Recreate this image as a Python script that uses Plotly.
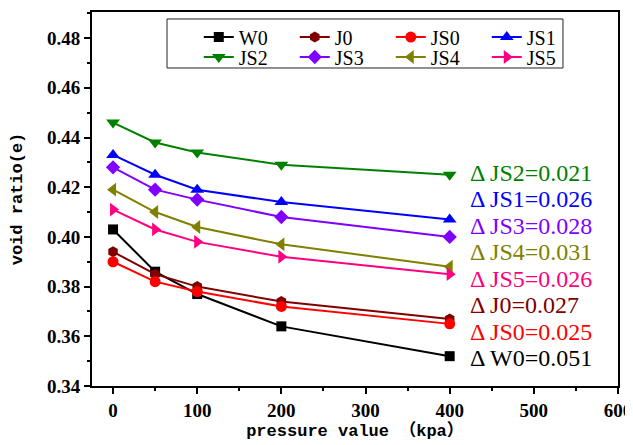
import plotly.graph_objects as go

pressure = [0, 50, 100, 200, 400]
series_names = ["W0", "J0", "JS0", "JS1", "JS2", "JS3", "JS4", "JS5"]
W0 = [0.403, 0.386, 0.377, 0.364, 0.352]
J0 = [0.394, 0.385, 0.380, 0.374, 0.367]
JS0 = [0.390, 0.382, 0.378, 0.372, 0.365]
JS1 = [0.433, 0.425, 0.419, 0.414, 0.407]
JS2 = [0.446, 0.438, 0.434, 0.429, 0.425]
JS3 = [0.428, 0.419, 0.415, 0.408, 0.400]
JS4 = [0.419, 0.410, 0.404, 0.397, 0.388]
JS5 = [0.411, 0.403, 0.398, 0.392, 0.385]
values = {"W0": W0, "J0": J0, "JS0": JS0, "JS1": JS1,
          "JS2": JS2, "JS3": JS3, "JS4": JS4, "JS5": JS5}

colors = {"W0": "#000000", "J0": "#800000", "JS0": "#FF0000", "JS1": "#0000FF",
          "JS2": "#008000", "JS3": "#8000FF", "JS4": "#808000", "JS5": "#FF0080"}
symbols = {"W0": "square", "J0": "hexagon", "JS0": "circle", "JS1": "triangle-up",
           "JS2": "triangle-down", "JS3": "diamond", "JS4": "triangle-left",
           "JS5": "triangle-right"}
msize = {"W0": 10, "J0": 11, "JS0": 11, "JS1": 12, "JS2": 12, "JS3": 11,
         "JS4": 12, "JS5": 12}

# annotation order (top to bottom) and their vertical positions (layout)
label_order = ["JS2", "JS1", "JS3", "JS4", "JS5", "J0", "JS0", "W0"]
label_y = [0.4257, 0.4153, 0.4044, 0.3939, 0.3831, 0.3726, 0.3617, 0.3513]
label_x = 422

fig = go.Figure()
for i, name in enumerate(series_names):
    fig.add_trace(go.Scatter(
        x=pressure, y=values[name], name=name, mode="lines+markers",
        line=dict(color=colors[name], width=2),
        marker=dict(symbol=symbols[name], size=msize[name], color=colors[name]),
        legend="legend" if i < 4 else "legend2",
    ))

for name, ly in zip(label_order, label_y):
    d = values[name][0] - values[name][-1]
    fig.add_annotation(
        x=label_x, y=ly, xref="x", yref="y", xanchor="left", yanchor="middle",
        text=f"Δ {name}={d:.3f}", showarrow=False,
        font=dict(family="Liberation Serif", size=24, color=colors[name]),
    )

legfont = dict(family="Liberation Serif", size=20, color="black")
common_leg = dict(orientation="h", xref="paper", yref="paper", xanchor="left",
                  yanchor="middle", bgcolor="rgba(0,0,0,0)", borderwidth=0,
                  entrywidth=51, entrywidthmode="pixels", font=legfont,
                  itemclick=False, tracegroupgap=0)

fig.add_shape(type="rect", xref="paper", yref="paper",
              x0=0.1426, x1=0.8954, y0=0.8503, y1=0.9813,
              line=dict(color="#222222", width=1), fillcolor="rgba(0,0,0,0)")

axfont = dict(family="Liberation Serif", size=19, color="black", weight="bold")
# page body adds an 8px offset; figure size/margins compensate for it
fig.update_layout(
    width=625, height=437,
    margin=dict(l=84, r=15, t=4, b=59),
    paper_bgcolor="white", plot_bgcolor="white",
    showlegend=True,
    legend=dict(x=0.203, y=0.933, **common_leg),
    legend2=dict(x=0.203, y=0.8797, **common_leg),
    xaxis=dict(range=[-25, 600], dtick=100, tick0=0, showgrid=False, zeroline=False,
               automargin=False,
               showline=True, linecolor="black", linewidth=2, mirror=True,
               ticks="outside", ticklen=6, tickwidth=2, tickcolor="black",
               minor=dict(dtick=50, ticks="outside", ticklen=3, tickwidth=2, tickcolor="black"),
               tickfont=axfont,
               title=dict(text="pressure value （kpa）", standoff=2,
                          font=dict(family="Liberation Mono, Noto Sans CJK SC", size=17,
                                    color="black", weight="bold"))),
    yaxis=dict(range=[0.34, 0.4905], dtick=0.02, tick0=0.34, tickformat=".2f",
               showgrid=False, zeroline=False, automargin=False,
               showline=True, linecolor="black", linewidth=2, mirror=True,
               ticks="outside", ticklen=6, tickwidth=2, tickcolor="black",
               minor=dict(dtick=0.01, ticks="outside", ticklen=3, tickwidth=2, tickcolor="black"),
               tickfont=axfont,
               title=dict(text="void ratio(e)", standoff=22,
                          font=dict(family="Liberation Mono", size=17, color="black",
                                    weight="bold"))),
)

fig.write_html("out.html")
